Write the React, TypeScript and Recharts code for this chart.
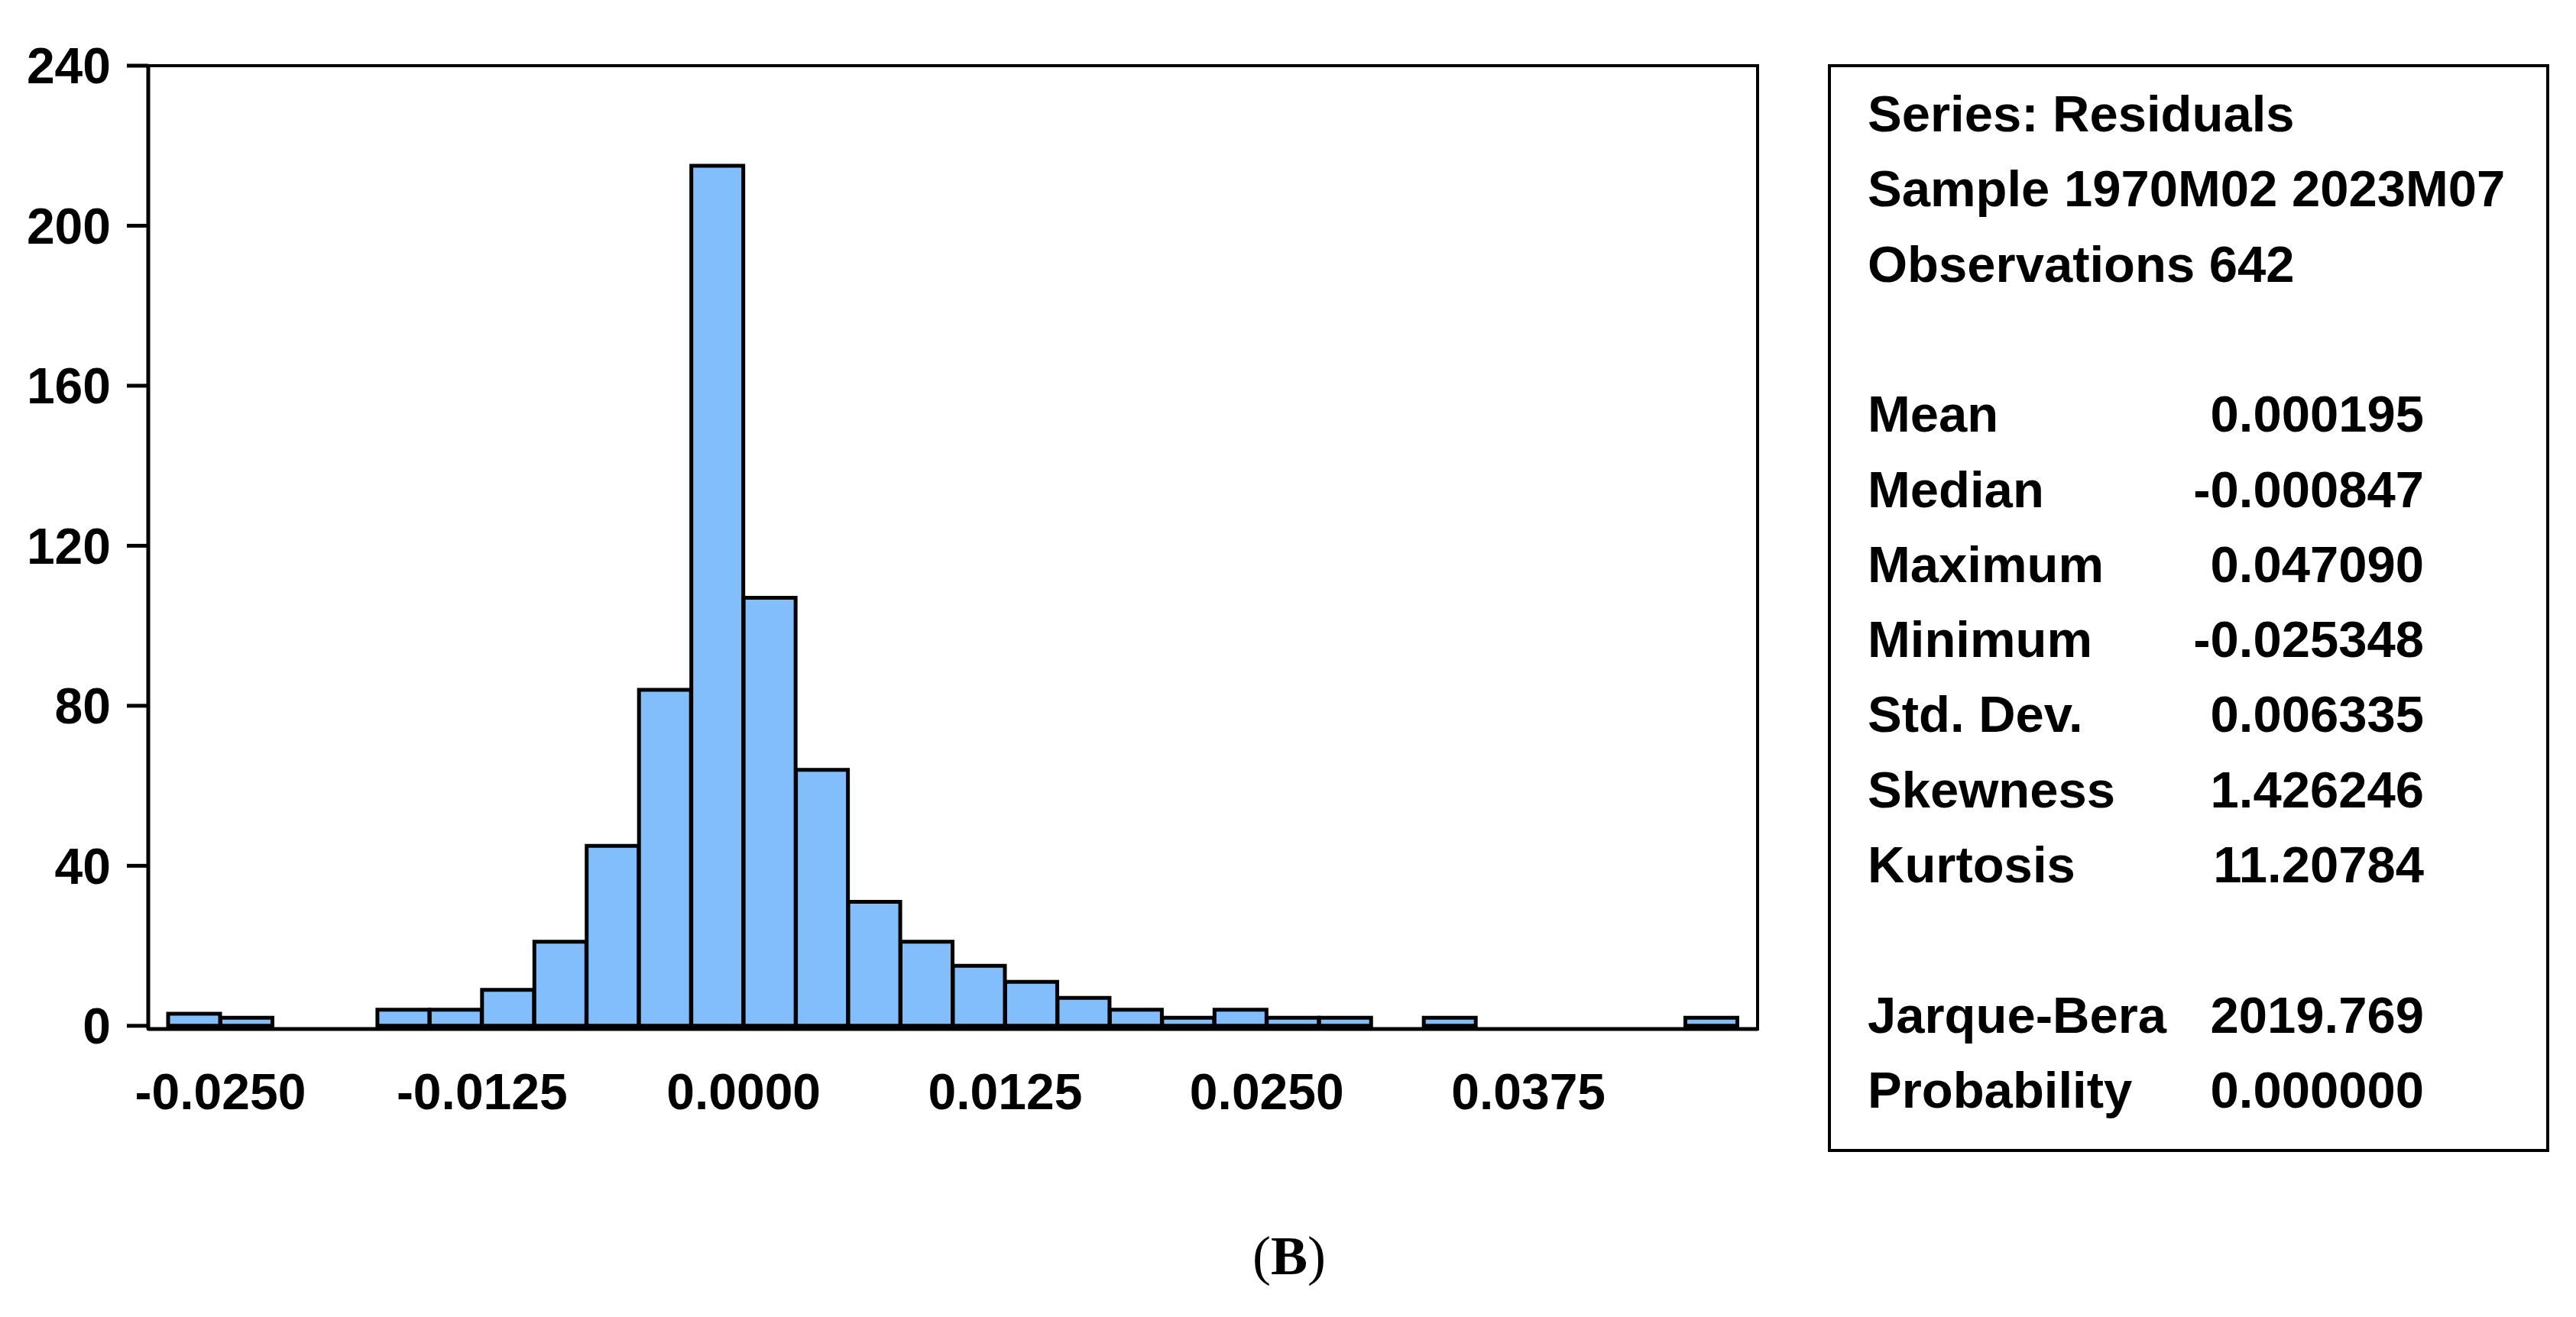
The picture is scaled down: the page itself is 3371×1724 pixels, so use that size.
import React from "react";
import {
  BarChart,
  Bar,
  XAxis,
  YAxis,
  ReferenceArea,
} from "recharts";

// histogram bins (width 0.0025), centres
const binCenters = [
  -0.02625, -0.02375, -0.02125, -0.01875, -0.01625, -0.01375, -0.01125,
  -0.00875, -0.00625, -0.00375, -0.00125, 0.00125, 0.00375, 0.00625,
  0.00875, 0.01125, 0.01375, 0.01625, 0.01875, 0.02125, 0.02375, 0.02625,
  0.02875, 0.03125, 0.03375, 0.03625, 0.03875, 0.04125, 0.04375, 0.04625,
];
const counts = [
  3, 2, 0, 0, 4, 4, 9, 21, 45, 84, 215, 107, 64, 31, 21, 15, 11, 7, 4, 2, 4,
  2, 2, 0, 2, 0, 0, 0, 0, 2,
];

const xTicks = [-0.025, -0.0125, 0, 0.0125, 0.025, 0.0375];
const yTicks = [0, 40, 80, 120, 160, 200, 240];

const statHeader = [
  "Series: Residuals",
  "Sample 1970M02 2023M07",
  "Observations 642",
];
const statLabels = [
  "Mean",
  "Median",
  "Maximum",
  "Minimum",
  "Std. Dev.",
  "Skewness",
  "Kurtosis",
];
const statValues = [
  "0.000195",
  "-0.000847",
  "0.047090",
  "-0.025348",
  "0.006335",
  "1.426246",
  "11.20784",
];
const testLabels = ["Jarque-Bera", "Probability"];
const testValues = ["2019.769", "0.000000"];

const data = binCenters.map((x, i) => ({ x, count: counts[i] }));

const FONT = "'Liberation Sans', Arial, Helvetica, sans-serif";
const tickStyle = {
  fontFamily: FONT,
  fontSize: 66,
  fontWeight: 700,
  fill: "#000",
};

function StatsBox() {
  const lineY = (i: number) => 172 + i * 98.3;
  const labelX = 2444;
  const valueX = 3172;
  const txt = {
    fontFamily: FONT,
    fontSize: 67,
    fontWeight: 700,
    fill: "#000",
  } as const;

  return (
    <svg
      width={3371}
      height={1724}
      style={{ position: "absolute", left: 0, top: 0 }}
    >
      <rect
        x={2394}
        y={86}
        width={940}
        height={1420}
        fill="none"
        stroke="#000"
        strokeWidth={4}
      />
      {statHeader.map((t, i) => (
        <text key={t} x={labelX} y={lineY(i)} {...txt}>
          {t}
        </text>
      ))}
      {statLabels.map((t, i) => (
        <text key={t} x={labelX} y={lineY(i + 4)} {...txt}>
          {t}
        </text>
      ))}
      {statValues.map((t, i) => (
        <text
          key={t}
          x={valueX}
          y={lineY(i + 4)}
          textAnchor="end"
          {...txt}
        >
          {t}
        </text>
      ))}
      {testLabels.map((t, i) => (
        <text key={t} x={labelX} y={lineY(i + 12)} {...txt}>
          {t}
        </text>
      ))}
      {testValues.map((t, i) => (
        <text
          key={t}
          x={valueX}
          y={lineY(i + 12)}
          textAnchor="end"
          {...txt}
        >
          {t}
        </text>
      ))}
      <text
        x={1687}
        y={1668}
        textAnchor="middle"
        fontFamily="'Liberation Serif', 'Times New Roman', serif"
        fontSize={72}
        fill="#000"
      >
        (<tspan fontWeight={700}>B</tspan>)
      </text>
    </svg>
  );
}

export default function App() {
  return (
    <div
      style={{
        position: "absolute",
        left: 0,
        top: 0,
        width: 3371,
        height: 1724,
        background: "#fff",
      }}
    >
      <div style={{ position: "absolute", left: 0, top: 0 }}>
        <BarChart
          width={2400}
          height={1724}
          data={data}
          barCategoryGap={0}
          barGap={0}
          margin={{ top: 86, right: 100, left: 0, bottom: 257 }}
        >
          <XAxis
            dataKey="x"
            type="number"
            domain={[-0.02845, 0.04845]}
            ticks={xTicks}
            tickFormatter={(v: number) => v.toFixed(4)}
            tick={tickStyle}
            tickLine={false}
            tickSize={0}
            tickMargin={58}
            axisLine={{ stroke: "#000", strokeWidth: 5 }}
            height={120}
            allowDataOverflow
          />
          <YAxis
            type="number"
            domain={[-0.8, 240]}
            ticks={yTicks}
            tick={tickStyle}
            tickSize={28}
            tickMargin={21}
            tickLine={{ stroke: "#000", strokeWidth: 5 }}
            axisLine={{ stroke: "#000", strokeWidth: 5 }}
            width={194}
            allowDataOverflow
          />
          <ReferenceArea
            x1={-0.02845}
            x2={0.04845}
            y1={-0.8}
            y2={240}
            fill="none"
            stroke="#000"
            strokeWidth={4}
            fillOpacity={0}
          />
          <Bar
            dataKey="count"
            fill="#82BEFC"
            stroke="#000"
            strokeWidth={5}
            isAnimationActive={false}
          />
        </BarChart>
      </div>
      <StatsBox />
    </div>
  );
}
